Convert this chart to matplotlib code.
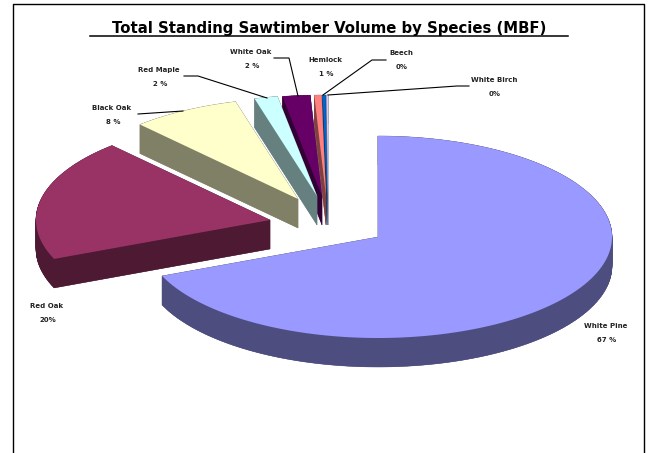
import numpy as np
import matplotlib.pyplot as plt
from matplotlib.patches import Polygon

# Slice shares (percent), measured from the slice angles in the picture
species = ["White Pine", "Red Oak", "Black Oak", "Red Maple", "White Oak", "Hemlock", "Beech", "White Birch"]
shares = [68.7, 19.5, 7.5, 1.6, 1.9, 0.5, 0.2, 0.1]
pct_labels = ["67 %", "20%", "8 %", "2 %", "2 %", "1 %", "0%", "0%"]
top_colors = ["#9999FF", "#993366", "#FFFFCC", "#CCFFFF", "#660066", "#FF8080", "#0066CC", "#CCCCFF"]
side_colors = ["#4D4D80", "#4D1933", "#808066", "#668080", "#330033", "#804040", "#003366", "#666680"]

# Layout in pixels
W, H = 649, 453
cx, cy = 378, 237
rx, ry = 234, 101
depth = 29
explode = [(0, 0), (-108, -17), (-80, -38), (-61, -41), (-56, -41), (-52, -41), (-51, -41), (-50, -41)]
label_pos = [(606, 333), (47, 313), (112, 115), (159, 77), (251, 59), (325, 67), (401, 60), (494, 87)]
leaders = [
    None,
    None,
    [(138, 114), (183, 111)],
    [(184, 76), (198, 76), (267, 98)],
    [(274, 58), (289, 58), (298, 96)],
    None,
    [(386, 60), (372, 60), (323, 95)],
    [(469, 86), (457, 86), (328, 95)],
]

fig = plt.figure(figsize=(W / 100, H / 100), dpi=100)
ax = fig.add_axes([0, 0, 1, 1])
ax.set_xlim(0, W)
ax.set_ylim(H, 0)
ax.axis("off")


def wedge_points(x0, y0, a0, a1):
    # angles are degrees clockwise from 12 o'clock
    t = np.radians(np.linspace(a0, a1, max(int(a1 - a0) * 2, 2) + 1))
    return np.column_stack([x0 + rx * np.sin(t), y0 - ry * np.cos(t)])


ends = np.cumsum(shares) / np.sum(shares) * 360
starts = np.r_[0, ends[:-1]]

# back slices first, white pine goes on top last
for i in range(len(shares) - 1, -1, -1):
    x0 = cx + explode[i][0]
    y0 = cy + explode[i][1]
    arc = wedge_points(x0, y0, starts[i], ends[i])
    top = np.vstack([[x0, y0], arc])
    body_z = 3 - i * 0.1
    # extruded body: bottom face plus a quad for every outline segment
    ax.add_patch(Polygon(top + [0, depth], fc=side_colors[i], ec="none", zorder=body_z))
    closed = np.vstack([top, top[:1]])
    for a, b in zip(closed[:-1], closed[1:]):
        quad = [a, b, b + [0, depth], a + [0, depth]]
        ax.add_patch(Polygon(quad, fc=side_colors[i], ec=side_colors[i], lw=0.3, zorder=body_z))
    ax.add_patch(Polygon(top, fc=top_colors[i], ec="none", zorder=body_z + 0.05))

for i, name in enumerate(species):
    x, y = label_pos[i]
    ax.text(x, y - 7, name, ha="center", va="center", fontsize=5, fontweight="bold", color="#222222", zorder=6)
    ax.text(x + 1, y + 7, pct_labels[i], ha="center", va="center", fontsize=5, fontweight="bold", color="#222222", zorder=6)
    if leaders[i]:
        pts = np.array(leaders[i])
        ax.plot(pts[:, 0], pts[:, 1], color="black", lw=0.8, zorder=5)

ax.text(329, 28, "Total Standing Sawtimber Volume by Species (MBF)", ha="center", va="center",
        fontsize=10.7, fontweight="bold", color="black")
ax.plot([90, 568], [35.5, 35.5], color="black", lw=1.1)

# chart frame, open at the bottom
ax.plot([12.5, 12.5, 644, 644], [H, 4, 4, H], color="black", lw=1.0)

fig.savefig("out.png", dpi=100)
